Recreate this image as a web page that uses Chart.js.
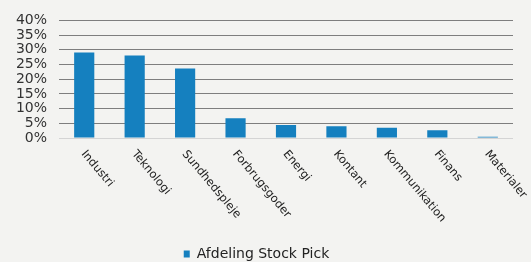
<!DOCTYPE html>
<html>
<head>
<meta charset="utf-8">
<script src="https://cdn.jsdelivr.net/npm/chart.js@4.4.0/dist/chart.umd.min.js"></script>
<style>
  html, body { margin: 0; padding: 0; background: #f3f3f1; }
  #wrap { width: 531px; height: 262px; }
</style>
</head>
<body>
<div id="wrap"><canvas id="myChart" width="531" height="262"></canvas></div>
<script>
(function () {
    'use strict';

    // data
    const categories = ["Industri", "Teknologi", "Sundhedspleje", "Forbrugsgoder", "Energi",
                        "Kontant", "Kommunikation", "Finans", "Materialer"];
    const stockPick = [29.1, 28.1, 23.6, 6.7, 4.4, 4.0, 3.5, 2.6, 0.4];
    const seriesName = "Afdeling Stock Pick";
    const yTicks = [0, 5, 10, 15, 20, 25, 30, 35, 40];

    const FONT = "'DejaVu Sans', Verdana, sans-serif";
    const BLUE = '#1580bf';

    // x labels slanted clockwise, starting at the tick
    const slantLabels = {
        id: 'slantLabels',
        afterDraw(chart) {
            const ctx = chart.ctx;
            const xs = chart.scales.x;
            const bottom = chart.chartArea.bottom;
            ctx.save();
            ctx.font = '11.5px ' + FONT;
            ctx.fillStyle = '#222';
            ctx.textAlign = 'left';
            ctx.textBaseline = 'middle';
            categories.forEach(function (lab, i) {
                ctx.save();
                ctx.translate(xs.getPixelForValue(i) - 1, bottom + 14);
                ctx.rotate(50 * Math.PI / 180);
                ctx.fillText(lab, 0, 0);
                ctx.restore();
            });
            ctx.restore();
        }
    };

    const ctx = document.getElementById('myChart').getContext('2d');
    const chart = new Chart(ctx, {
        type: 'bar',
        data: {
            labels: categories,
            datasets: [{
                label: seriesName,
                data: stockPick,
                backgroundColor: BLUE,
                borderWidth: 0,
                barPercentage: 0.4,
                categoryPercentage: 1.0
            }]
        },
        options: {
            responsive: false,
            animation: false,
            devicePixelRatio: 1,
            layout: { padding: { top: 20, right: 18, bottom: -9, left: 0 } },
            plugins: {
                tooltip: { enabled: false },
                legend: {
                    position: 'bottom',
                    labels: {
                        boxWidth: 6,
                        boxHeight: 7,
                        padding: 2,
                        color: '#222',
                        font: { family: FONT, size: 14 }
                    }
                }
            },
            scales: {
                x: {
                    grid: { display: false },
                    border: { display: false },
                    ticks: { display: false },
                    afterFit: function (s) { s.height = 107; }
                },
                y: {
                    min: 0,
                    max: 40,
                    afterFit: function (s) { s.width = 59; },
                    afterBuildTicks: function (s) {
                        s.ticks = yTicks.map(function (v) { return { value: v }; });
                    },
                    border: { display: false },
                    grid: {
                        drawTicks: false,
                        lineWidth: 1,
                        color: function (c) { return c.tick && c.tick.value === 0 ? '#d4d4d4' : '#7e7e7e'; }
                    },
                    ticks: {
                        autoSkip: false,
                        padding: 12,
                        color: '#333',
                        font: { family: FONT, size: 14 },
                        callback: function (v) { return v + '%'; }
                    }
                }
            }
        },
        plugins: [slantLabels]
    });
})();
</script>
</body>
</html>
